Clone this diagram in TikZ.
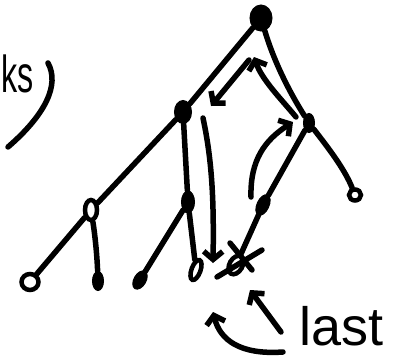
\documentclass[tikz,border=0pt]{standalone}
\usepackage{fontspec}
\newfontfamily\hand{Liberation Sans}
\usetikzlibrary{arrows.meta,shapes.geometric}
\tikzset{
  stroke/.style={line width=5.5pt, line cap=round, line join=round},
  blob/.style={ellipse, fill=black, draw=black, line width=1pt, inner sep=0pt},
  ring/.style={ellipse, draw=black, line width=4.5pt, inner sep=0pt},
  trav/.style={stroke, -{Straight Barb[length=8pt,width=19pt]}},
  handtext/.style={inner sep=0pt, text=black}
}
\begin{document}
\begin{tikzpicture}[x=1pt,y=-1pt]
\useasboundingbox (0,0) rectangle (394,362);
% tree nodes
\node[blob, minimum width=22pt, minimum height=26pt] (R) at (261,18) {};
\node[blob, minimum width=17pt, minimum height=23pt] (A) at (183,112) {};
\node[blob, minimum width=11pt, minimum height=19pt] (B) at (309,123) {};
\node[ring, minimum width=12pt, minimum height=20pt] (C) at (91,210) {};
\node[ring, minimum width=17pt, minimum height=16pt] (D) at (30,282) {};
\node[blob, minimum width=11pt, minimum height=19pt] (E) at (98,281) {};
\node[blob, minimum width=13pt, minimum height=22pt] (F) at (188,202) {};
\node[blob, minimum width=12pt, minimum height=20pt, rotate=-30] (G) at (140,280) {};
\node[ring, minimum width=9pt, minimum height=21pt, rotate=-20] (H) at (196,270) {};
\node[ring, minimum width=12pt, minimum height=11pt] (I) at (355,195) {};
\node[blob, minimum width=12pt, minimum height=22pt, rotate=-25] (J) at (263,205) {};
\node[ring, minimum width=13pt, minimum height=20pt, rotate=-30] (K) at (236,265) {};
% tree edges
\draw[stroke] (R) -- (A) -- (C);
\draw[stroke] (C) -- (D);
\draw[stroke] (C) .. controls (95,235) and (97,255) .. (E);
\draw[stroke] (A) -- (F);
\draw[stroke] (F) -- (G);
\draw[stroke] (F) -- (H);
\draw[stroke] (R) .. controls (272,55) and (285,85) .. (B);
\draw[stroke] (B) .. controls (330,150) and (345,170) .. (I);
\draw[stroke] (B) -- (J) -- (K);
% cross on last node
\coordinate (x1) at (217,277); \coordinate (x2) at (262,250);
\coordinate (x3) at (230,243); \coordinate (x4) at (252,270);
\draw[stroke] (x1) -- (x2);
\draw[stroke] (x3) -- (x4);
% traversal arrows
\coordinate (a1s) at (249,60);  \coordinate (a1e) at (211,106);
\coordinate (a2s) at (203,118); \coordinate (a2e) at (213,263);
\coordinate (a3s) at (251,197); \coordinate (a3e) at (293,122);
\coordinate (a4s) at (296,117); \coordinate (a4e) at (254,57);
\draw[trav] (a1s) -- (a1e);
\draw[trav] (a2s) .. controls (212,160) and (214,200) .. (a2e);
\draw[trav] (a3s) .. controls (250,160) and (265,140) .. (a3e);
\draw[trav] (a4s) .. controls (282,100) and (262,80) .. (a4e);
% labels
\node[handtext, font=\hand\fontsize{52}{52}\selectfont, anchor=base west, xscale=0.62] (ks) at (1,92) {ks};
\node[handtext, font=\hand\fontsize{54}{54}\selectfont, anchor=base west] (last) at (299,345) {last};
\draw[stroke] (48,63) .. controls (60,85) and (45,115) .. (8,147);
% arrows from label
\coordinate (l1s) at (281,332); \coordinate (l1e) at (250,290);
\coordinate (l2s) at (283,352); \coordinate (l2e) at (213,312);
\draw[trav] (l1s) -- (l1e);
\draw[trav] (l2s) .. controls (240,355) and (220,340) .. (l2e);
\end{tikzpicture}
\end{document}
